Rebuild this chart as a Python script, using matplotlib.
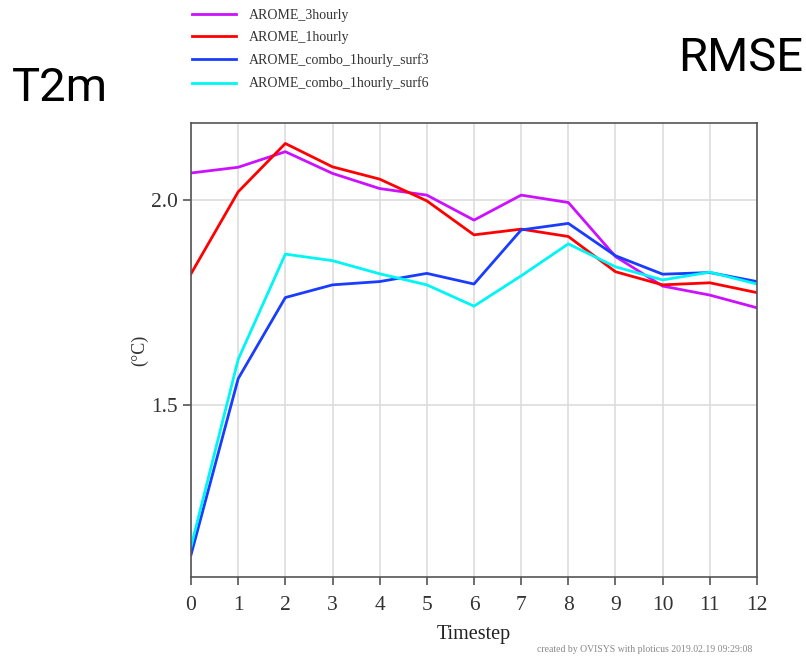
import matplotlib
matplotlib.use("Agg")
import matplotlib.pyplot as plt

steps = list(range(13))
arome_3h = [2.066, 2.080, 2.118, 2.065, 2.028, 2.012, 1.951, 2.012, 1.994, 1.862, 1.790, 1.768, 1.737]
arome_1h = [1.820, 2.020, 2.138, 2.081, 2.051, 1.998, 1.915, 1.929, 1.911, 1.825, 1.793, 1.798, 1.774]
combo_s3 = [1.134, 1.564, 1.762, 1.793, 1.801, 1.821, 1.795, 1.927, 1.943, 1.864, 1.819, 1.823, 1.801]
combo_s6 = [1.154, 1.611, 1.868, 1.852, 1.820, 1.793, 1.741, 1.815, 1.893, 1.837, 1.805, 1.824, 1.795]

names = ["AROME_3hourly", "AROME_1hourly", "AROME_combo_1hourly_surf3", "AROME_combo_1hourly_surf6"]
colors = ["#cc11ff", "#ff0000", "#1a3cff", "#00f5f5"]
series = [arome_3h, arome_1h, combo_s3, combo_s6]

serif = ["Liberation Serif", "DejaVu Serif"]

fig = plt.figure(figsize=(8.06, 6.57), dpi=100)
ax = fig.add_axes([191/806, 1 - 577/657, (757-191)/806, (577-123)/657])

lines = []
for vals, c, n in zip(series, colors, names):
    ln, = ax.plot(steps, vals, color=c, lw=2.0, label=n)
    lines.append(ln)

ax.set_xlim(0, 12)
ax.set_ylim(1.08, 2.188)
ax.set_xticks(steps)
ax.set_yticks([1.5, 2.0])
ax.set_yticklabels(["1.5", "2.0"])
ax.grid(True, color="#dddddd", lw=1.2)
ax.set_axisbelow(True)
for s in ax.spines.values():
    s.set_color("#555555")
    s.set_linewidth(1.2)
ax.tick_params(axis="both", direction="out", length=6, width=1.2, color="#555555",
               labelcolor="#333333", labelsize=15.5)
ax.tick_params(axis="x", pad=8)
for lab in ax.get_xticklabels() + ax.get_yticklabels():
    lab.set_family(serif)
ax.set_xlabel("Timestep", family=serif, fontsize=14.5, color="#222222")
ax.xaxis.set_label_coords(0.5, -0.105)
ax.set_ylabel("(°C)", family=serif, fontsize=13, color="#333333")
ax.yaxis.set_label_coords(-0.075, 0.5)

fig.legend(handles=lines, loc="upper left", bbox_to_anchor=(186/806, 1 - 3/657),
           frameon=False, prop={"family": serif, "size": 10}, handlelength=3.2,
           handletextpad=0.9, labelspacing=0.68, borderaxespad=0,
           labelcolor="#333333")

fig.text(12/806, 1 - 88/657, "T2m", family="Roboto", fontsize=34, va="center", ha="left")
fig.text(803/806, 1 - 58/657, "RMSE", family="Roboto", fontsize=34, va="center", ha="right")
fig.text(752/806, 1 - 650/657, "created by OVISYS with ploticus 2019.02.19 09:29:08",
         family=serif, fontsize=7, color="#888888", ha="right", va="center")

fig.savefig("out.png", dpi=100)
